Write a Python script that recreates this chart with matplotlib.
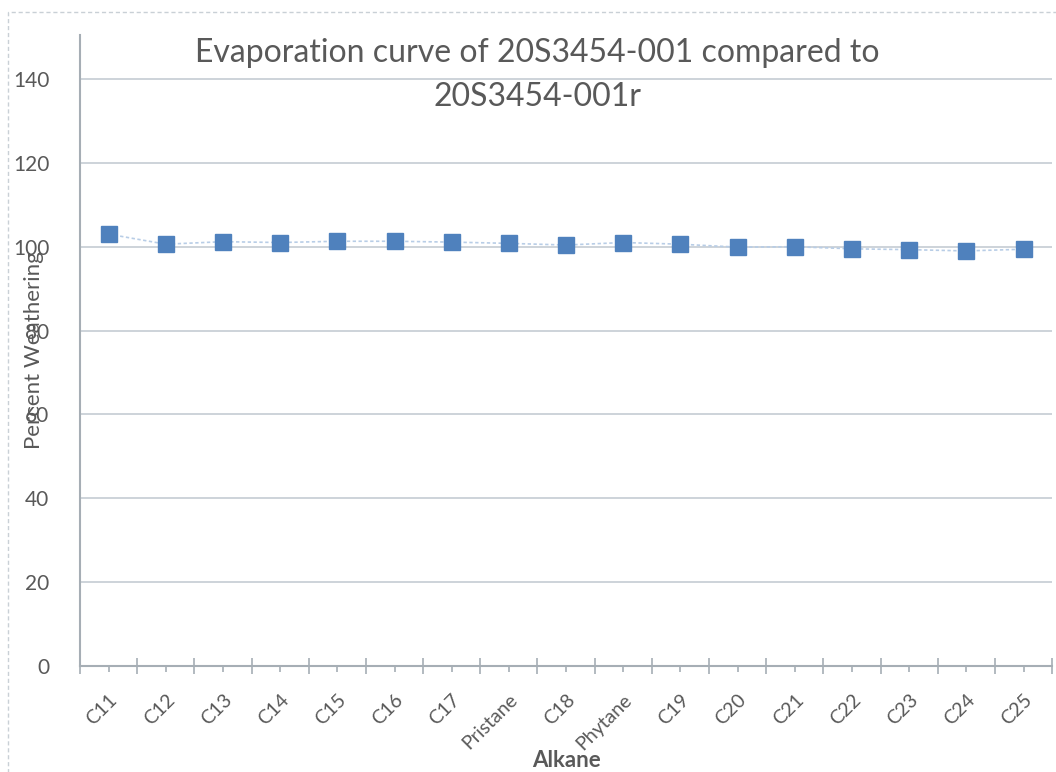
import numpy as np
import matplotlib.pyplot as plt
from matplotlib.patches import Rectangle

# alkane weathering percentages
alkanes = ['C11', 'C12', 'C13', 'C14', 'C15', 'C16', 'C17', 'Pristane', 'C18',
           'Phytane', 'C19', 'C20', 'C21', 'C22', 'C23', 'C24', 'C25']
weathering = [103.0, 100.6, 101.2, 101.0, 101.3, 101.3, 101.1, 100.8, 100.4,
              101.0, 100.6, 99.9, 100.0, 99.5, 99.3, 99.0, 99.4]
yticks = [0, 20, 40, 60, 80, 100, 120, 140]

plt.rcParams['font.family'] = ['Lato', 'DejaVu Sans']
txt = '#595959'
axcol = '#a6aeb5'

fig = plt.figure(figsize=(10.56, 7.72), dpi=100)
ax = fig.add_axes([0.0758, 0.1373, 0.9205, 0.8174])

x = np.arange(len(alkanes))
ax.plot(x, weathering, color='#b8cde6', lw=1.2, ls=(0, (2, 1.5)), zorder=2)
ax.plot(x, weathering, ls='none', marker='s', ms=11, color='#4f81bd', zorder=3)

ax.set_xlim(-0.5, len(alkanes) - 0.5)
ax.set_ylim(0, 150.5)
ax.set_yticks(yticks)
ax.set_yticklabels([str(v) for v in yticks], fontsize=15, color=txt)
ax.tick_params(axis='y', length=0, pad=22)
ax.yaxis.grid(True, color='#c5ccd3', lw=1.2)
ax.set_axisbelow(True)

# category boundaries as major ticks, centers as minor ticks
ax.set_xticks(np.arange(len(alkanes) + 1) - 0.5)
ax.set_xticklabels([])
ax.set_xticks(x, minor=True)
ax.set_xticklabels(alkanes, minor=True, rotation=45, ha='right', va='top',
                   rotation_mode='anchor', fontsize=14, color=txt)
ax.tick_params(axis='x', which='major', direction='inout', length=12, width=1.2, color=axcol)
ax.tick_params(axis='x', which='minor', direction='out', length=4, width=1.2, color=axcol, pad=14)

for s in ['top', 'right']:
    ax.spines[s].set_visible(False)
for s in ['left', 'bottom']:
    ax.spines[s].set_color(axcol)
    ax.spines[s].set_linewidth(1.5)

ax.set_xlabel('Alkane', fontsize=16, fontweight='bold', color=txt, labelpad=-2)
ax.set_ylabel('Percent Weathering', fontsize=16, color=txt, labelpad=-22)

fig.text(0.509, 0.931, 'Evaporation curve of 20S3454-001 compared to',
         ha='center', va='center', fontsize=23, color=txt)
fig.text(0.509, 0.874, '20S3454-001r', ha='center', va='center', fontsize=23, color=txt)

# outer chart frame
fig.patches.append(Rectangle((0.008, -0.02), 1.2, 1.005, transform=fig.transFigure,
                             fill=False, ec='#c9d0d6', lw=1, ls=(0, (3, 2))))

fig.savefig('out.png', dpi=100)
